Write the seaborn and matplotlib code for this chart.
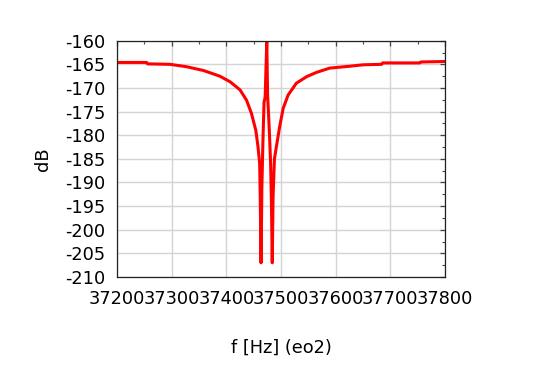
import pandas as pd
import matplotlib
matplotlib.use("Agg")
import matplotlib.pyplot as plt
import seaborn as sns
from matplotlib.ticker import MultipleLocator

# values
freq_hz = [37200, 37254, 37256, 37297, 37327, 37358, 37388, 37407, 37425, 37437,
           37446, 37454, 37458, 37461, 37462, 37463.5, 37465, 37467, 37469, 37471,
           37472.5, 37474, 37475.5, 37477, 37479, 37481, 37482.5, 37484, 37485.5, 37488,
           37492, 37498, 37504, 37513, 37528, 37547, 37565, 37589, 37626, 37650,
           37684, 37686, 37754, 37756, 37800]
level_db = [-164.6, -164.6, -164.9, -165.0, -165.5, -166.3, -167.5, -168.7, -170.4, -172.6,
            -175.4, -179.0, -182.5, -186.0, -193.0, -207.0, -191.0, -181.0, -173.0, -172.0,
            -166.0, -160.2, -171.5, -175.0, -180.0, -186.0, -194.0, -207.0, -193.0, -185.0,
            -182.1, -177.9, -174.3, -171.5, -169.0, -167.6, -166.7, -165.8, -165.4, -165.1,
            -165.0, -164.7, -164.7, -164.5, -164.4]

df = pd.DataFrame({"f": freq_hz, "dB": level_db})

sns.set_style("white")
plt.rcParams["font.family"] = ["DejaVu Sans"]
plt.rcParams["axes.unicode_minus"] = False
plt.rcParams["text.color"] = "black"
plt.rcParams["axes.labelcolor"] = "black"
plt.rcParams["xtick.color"] = "black"
plt.rcParams["ytick.color"] = "black"

fig, ax = plt.subplots(figsize=(5.45, 3.82), dpi=100)
fig.subplots_adjust(left=117/545, right=445/545, top=1-40.7/382, bottom=1-277/382)

sns.lineplot(data=df, x="f", y="dB", color="red", linewidth=2.2, ax=ax, sort=False)

ax.set_xlim(37200, 37800)
ax.set_ylim(-210, -160)
ax.xaxis.set_major_locator(MultipleLocator(100))
ax.xaxis.set_minor_locator(MultipleLocator(50))
ax.yaxis.set_major_locator(MultipleLocator(5))
ax.yaxis.set_minor_locator(MultipleLocator(2.5))

ax.grid(True, which="major", color="#d4d4d4", linewidth=1.0)
ax.set_axisbelow(True)
for s in ax.spines.values():
    s.set_color("#222222")
    s.set_linewidth(0.9)

ax.tick_params(which="both", direction="in", top=True, right=True, color="#444444")
ax.tick_params(which="major", length=3.5, width=0.9)
ax.tick_params(which="minor", length=2.5, width=0.8)
ax.tick_params(axis="x", which="major", labelsize=12.8, pad=9.5)
ax.tick_params(axis="y", which="major", labelsize=12.8, pad=8.5)

ax.set_xlabel("f [Hz] (eo2)", fontsize=12.8, labelpad=22)
ax.set_ylabel("dB", fontsize=12.8, labelpad=9)

fig.savefig("out.png", dpi=100)
